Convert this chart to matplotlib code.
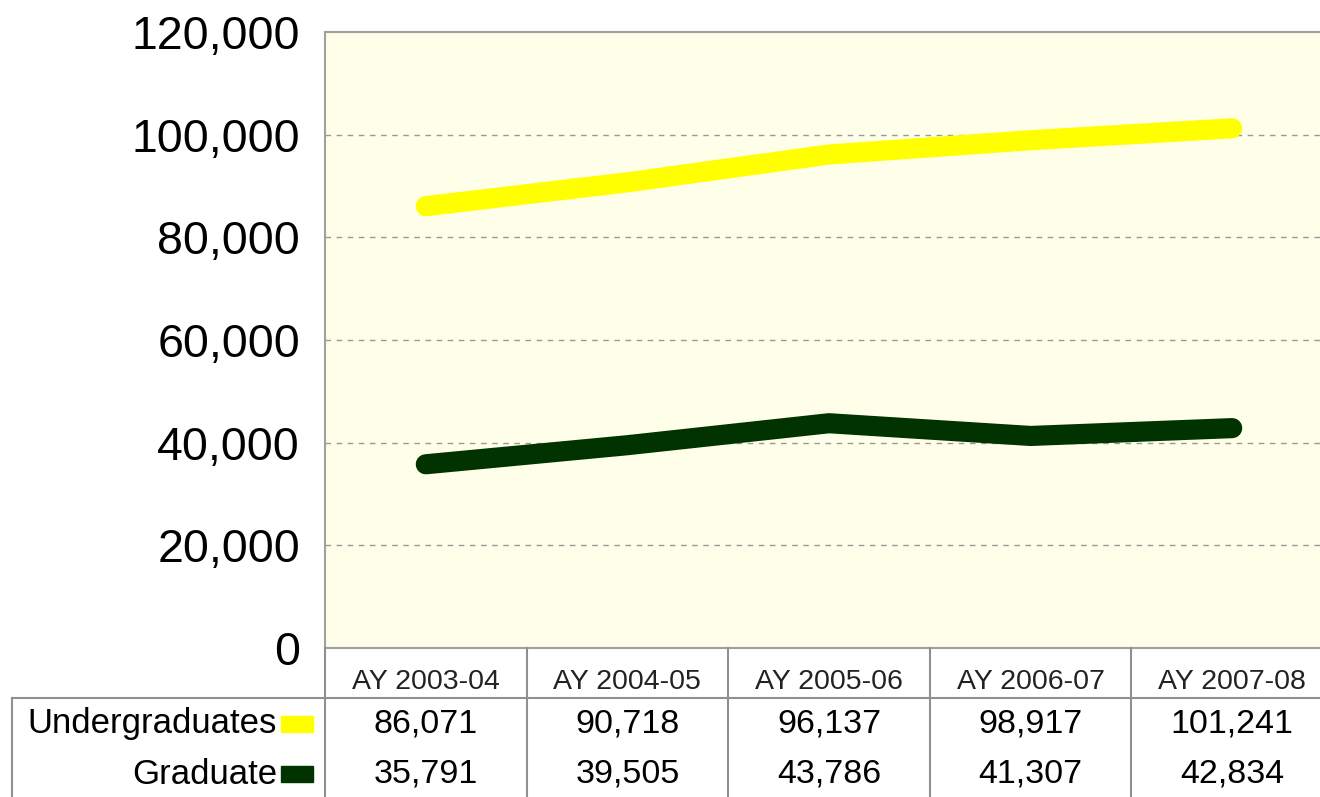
import matplotlib
matplotlib.use("Agg")

import matplotlib.pyplot as plt
import matplotlib.transforms as mtransforms
from matplotlib.lines import Line2D
from matplotlib.patches import Rectangle

categories = ["AY 2003-04", "AY 2004-05", "AY 2005-06", "AY 2006-07", "AY 2007-08"]
series_names = ["Undergraduates", "Graduate"]
undergrad = [86071, 90718, 96137, 98917, 101241]
graduate = [35791, 39505, 43786, 41307, 42834]
colors = ["#FFFF00", "#003300"]
yticks = [0, 20000, 40000, 60000, 80000, 100000, 120000]

W, H = 1320, 797
fig = plt.figure(figsize=(W / 100, H / 100), dpi=100)
plt.rcParams['font.family'] = ['Liberation Sans', 'DejaVu Sans']

# axes spans past the right edge, like the cropped original
left, right, top, bottom = 325, 1333, 32, 648
ax = fig.add_axes([left / W, 1 - bottom / H, (right - left) / W, (bottom - top) / H])
ax.set_facecolor("#FFFEE8")

x = list(range(len(categories)))
for vals, col in zip([undergrad, graduate], colors):
    ax.plot(x, vals, color=col, lw=14.5, solid_capstyle="round", zorder=3)

ax.set_xlim(-0.5, len(categories) - 0.5)
ax.set_ylim(0, 120000)
ax.set_yticks(yticks)
ax.set_yticklabels([f"{v:,}" for v in yticks], fontsize=33.5)
ax.set_xticks([])
ax.tick_params(axis="y", length=0, pad=18)
for v in yticks[1:-1]:
    ax.axhline(v, color="#999999", lw=1, ls=(0, (4, 4)), zorder=1)
for s in ax.spines.values():
    s.set_color("#A0A0A0")
    s.set_linewidth(1.5)

# data table under the axes
def fy(py):
    return 1 - py / H

trans = mtransforms.blended_transform_factory(ax.transData, fig.transFigure)
gray = "#909090"
head_y = 682
row_ys = [724, 774]

for i, cat in enumerate(categories):
    fig.text(i, fy(head_y), cat, transform=trans, ha="center", va="center",
             fontsize=20.5, color="#222222")
    for r, vals in enumerate([undergrad, graduate]):
        fig.text(i, fy(row_ys[r]), f"{vals[i]:,}", transform=trans,
                 ha="center", va="center", fontsize=24.5, color="black")

# grid lines of the table
for i in range(len(categories) + 1):
    fig.add_artist(Line2D([i - 0.5, i - 0.5], [fy(648), 0], transform=trans,
                          color=gray, lw=1.5))
fig.add_artist(Line2D([12 / W, 1], [fy(698), fy(698)], color=gray, lw=1.5))
fig.add_artist(Line2D([12 / W, 12 / W], [fy(698), 0], color=gray, lw=1.5))

for r, name in enumerate(series_names):
    fig.text(277 / W, fy(row_ys[r]), name, ha="right", va="center",
             fontsize=25, color="black")
    fig.add_artist(Rectangle((281 / W, fy(row_ys[r] + 8)), 32 / W, 16 / H,
                             transform=fig.transFigure, color=colors[r]))

fig.savefig("out.png", dpi=100)
